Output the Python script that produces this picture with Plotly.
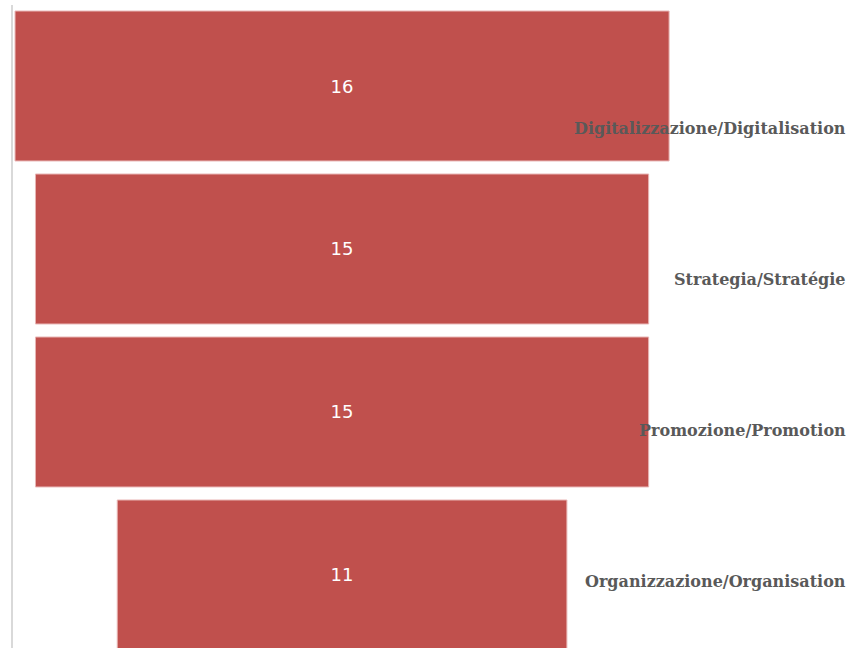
import plotly.graph_objects as go

# Funnel stages and their counts
categories = [
    "Digitalizzazione/Digitalisation",
    "Strategia/Stratégie",
    "Promozione/Promotion",
    "Organizzazione/Organisation",
]
values = [16, 15, 15, 11]

BAR_COLOR = "#C0504D"
LABEL_COLOR = "#595959"

W, H = 851, 648
M_L, M_T = 13, 5
plot_w, plot_h = W - M_L, H - M_T

fig = go.Figure(
    go.Funnel(
        y=categories,
        x=values,
        marker=dict(color=BAR_COLOR, line=dict(color="#E8B5B4", width=1)),
        connector=dict(visible=False),
        texttemplate="%{x}",
        textposition="inside",
        insidetextanchor="middle",
        textfont=dict(family="DejaVu Sans", size=18, color="white"),
        hoverinfo="x+y",
    )
)

# Stage names sit on the right, spaced evenly down the chart
annotations = []
for i, name in enumerate(categories):
    y_px = 128 + 151 * i
    annotations.append(
        dict(
            text="<b>" + name + "</b>",
            xref="paper",
            yref="paper",
            x=(848 - M_L) / plot_w,
            y=(H - y_px) / plot_h,
            xanchor="right",
            yanchor="middle",
            showarrow=False,
            font=dict(family="DejaVu Serif", size=16, color=LABEL_COLOR),
        )
    )

fig.update_layout(
    width=W,
    height=H,
    margin=dict(l=M_L, r=0, t=M_T, b=0, pad=0),
    paper_bgcolor="white",
    plot_bgcolor="white",
    funnelgap=0.08,
    showlegend=False,
    annotations=annotations,
    xaxis=dict(
        range=[-8.05, 12.45],
        visible=False,
        fixedrange=True,
    ),
    yaxis=dict(
        range=[3.448, -0.497],
        showticklabels=False,
        showgrid=False,
        zeroline=False,
        showline=True,
        linecolor="#D9D9D9",
        linewidth=2,
        ticks="",
    ),
)

fig.write_html("out.html")
